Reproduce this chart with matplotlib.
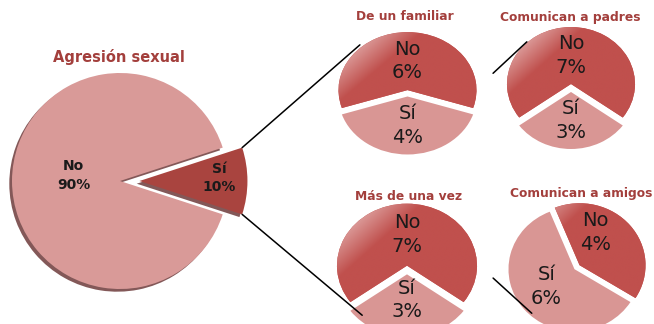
import numpy as np
import matplotlib
matplotlib.use("Agg")
import matplotlib.pyplot as plt
from matplotlib.patches import ConnectionPatch
from matplotlib.colors import to_rgb

W, H = 654, 324

main_title = "Agresión sexual"
main_labels = ["No", "Sí"]
main_values = [90, 10]

sub_titles = ["De un familiar", "Comunican a padres", "Más de una vez", "Comunican a amigos"]
sub_labels = ["No", "Sí"]
sub_no = [6, 7, 7, 4]
sub_si = [4, 3, 3, 6]

dark_red = "#C0504D"
light_red = "#D99694"
pale_red = "#F2D8D7"
title_red = "#A33F3C"

fig = plt.figure(figsize=(W / 100, H / 100), dpi=100)
fig.patch.set_facecolor("white")


# axes placed by pixel centre and radii, limits +-1.2 so exploded wedges fit
def px_axes(cx, cy, a, b):
    ax = fig.add_axes([(cx - 1.2 * a) / W, 1 - (cy + 1.2 * b) / H, 2.4 * a / W, 2.4 * b / H])
    return ax


def fix_axes(ax):
    ax.set_xlim(-1.2, 1.2)
    ax.set_ylim(-1.2, 1.2)
    ax.set_aspect("auto")
    ax.axis("off")


# gradient fill for the "No" wedge: pale at top-left, dark red elsewhere
def gradient(ax, wedge):
    yy, xx = np.mgrid[1.2:-1.2:240j, -1.2:1.2:240j]
    s = (xx - yy) / np.sqrt(2)
    t = np.clip((s + 1.45) / 0.85, 0, 1)[..., None]
    c0 = np.array(to_rgb(pale_red))
    c1 = np.array(to_rgb(dark_red))
    img = c0 * (1 - t) + c1 * t
    im = ax.imshow(img, extent=[-1.2, 1.2, -1.2, 1.2], aspect="auto", zorder=2)
    im.set_clip_path(wedge)


# ---- big pie ----
big = px_axes(120, 181, 108, 108)
big.pie(main_values, colors=["#835858", "#835858"], startangle=18, explode=[0.0, 0.18],
        center=(-0.025, -0.025), wedgeprops={"linewidth": 0})
wedges, texts = big.pie(main_values, colors=["#D99A98", "#A9443F"], startangle=18,
                        explode=[0.0, 0.18], labels=[f"{l}\n{v}%" for l, v in zip(main_labels, main_values)],
                        labeldistance=0.5,
                        textprops={"ha": "center", "va": "center", "fontsize": 10, "fontweight": "bold",
                                   "color": "#1a1a1a", "linespacing": 1.4},
                        wedgeprops={"linewidth": 0})
texts[0].set_position((-0.43, 0.05))
texts[1].set_position((0.92, 0.03))
fix_axes(big)
fig.text(119 / W, 1 - 57 / H, main_title, ha="center", va="center", fontsize=10.5,
         fontweight="bold", color=title_red)

# ---- small pies ----
geo = [(407.5, 93, 69, 58), (571, 88, 64, 57), (407, 270, 70, 62), (576, 268, 66, 62)]
starts = [-18, -36, -36, -32]
explodes = [(0.05, 0.06), (0.07, 0.07), (0.07, 0.07), (0.07, 0.03)]
title_pos = [(405, 17), (570, 17), (409, 197), (581, 193)]
sub_axes = []
for i in range(4):
    cx, cy, a, b = geo[i]
    ax = px_axes(cx, cy, a, b)
    w, tx = ax.pie([sub_no[i], sub_si[i]], colors=[dark_red, light_red], startangle=starts[i],
                   explode=explodes[i],
                   labels=[f"{sub_labels[0]}\n{sub_no[i]}%", f"{sub_labels[1]}\n{sub_si[i]}%"],
                   labeldistance=0.5,
                   textprops={"ha": "center", "va": "center", "fontsize": 14, "color": "#1a1a1a",
                              "linespacing": 1.3, "zorder": 5},
                   wedgeprops={"linewidth": 0})
    gradient(ax, w[0])
    if i == 2:
        tx[1].set_position((0.0, -0.48))
    if i == 3:
        tx[0].set_position((0.3, 0.57))
        tx[1].set_position((-0.45, -0.3))
    fix_axes(ax)
    sub_axes.append(ax)
    fig.text(title_pos[i][0] / W, 1 - title_pos[i][1] / H, sub_titles[i], ha="center", va="center",
             fontsize=8.8, fontweight="bold", color=title_red)

# ---- connector lines ----
ang = np.deg2rad(18)
corner_top = (0.18 + np.cos(ang), np.sin(ang))
corner_bot = (0.18 + np.cos(ang), -np.sin(ang))
links = [
    (big, corner_top, sub_axes[0], (-0.69, 0.83)),
    (big, corner_bot, sub_axes[2], (-0.64, -0.73)),
    (sub_axes[0], (1.24, 0.34), sub_axes[1], (-0.69, 0.81)),
    (sub_axes[2], (1.23, -0.13), sub_axes[3], (-0.67, -0.73)),
]
for axa, pa, axb, pb in links:
    con = ConnectionPatch(xyA=pa, coordsA=axa.transData, xyB=pb, coordsB=axb.transData,
                          color="black", lw=1.1, zorder=10)
    fig.add_artist(con)

fig.savefig("out.png", dpi=100, facecolor="white")
